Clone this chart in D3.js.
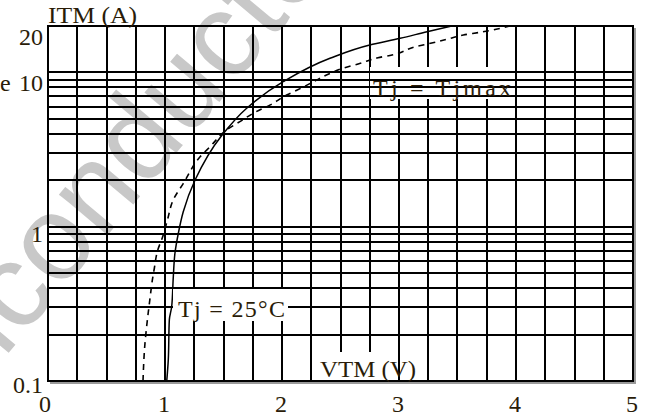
<!DOCTYPE html>
<html>
<head>
<meta charset="utf-8">
<script src="https://cdn.jsdelivr.net/npm/d3@7"></script>
<style>
  html, body { margin: 0; padding: 0; background: #fff; }
  svg { display: block; }
  text { font-family: "Liberation Serif", "Times New Roman", serif; }
</style>
</head>
<body>
<svg id="chart" width="656" height="419"></svg>
<script>
// ---- data ----
const xTickValues = [0, 1, 2, 3, 4, 5];
const yTickValues = [0.1, 1, 10, 20];
const yTickLabels = ["0.1", "1", "10", "20"];

// Tj = 25 °C (solid)
const vtm25 = [1.015, 1.028, 1.037, 1.057, 1.071, 1.085, 1.114, 1.156, 1.256, 1.485, 1.698, 2.01, 2.41, 2.75, 3.01, 3.24, 3.45];
const itm25 = [0.1, 0.137, 0.249, 0.303, 0.474, 0.673, 0.907, 1.25, 2.0, 3.9, 5.86, 8.71, 12.35, 15.06, 16.64, 18.36, 20];

// Tj = Tjmax (dashed)
const vtmMax = [0.812, 0.829, 0.843, 0.872, 0.892, 0.909, 0.934, 0.98, 1.02, 1.07, 1.157, 1.30, 1.385, 1.527, 1.64, 1.78, 1.90, 2.04, 2.13, 2.27, 2.38, 2.52, 2.67, 2.82, 2.94, 3.14, 3.27, 3.42, 3.55, 3.69, 3.84, 3.95];
const itmMax = [0.1, 0.176, 0.225, 0.344, 0.452, 0.538, 0.689, 0.862, 1.1, 1.49, 1.91, 2.84, 3.30, 4.24, 4.8, 5.57, 6.16, 7.14, 7.69, 8.71, 9.62, 10.64, 11.46, 12.46, 12.97, 14.68, 15.45, 16.47, 17.48, 18.2, 19.12, 20];

const xLabel = "VTM (V)";
const yLabel = "ITM (A)";
const label25 = "Tj = 25°C";
const labelMax = "Tj = Tjmax";

// ---- layout ----
const svg = d3.select("#chart");
const x = d3.scaleLinear().domain([0, 5]).range([48, 633]);
const y = d3.scaleLog().domain([0.1, 20]).range([381, 26]);

const vGrid = d3.range(0.25, 5, 0.25);
const hGrid = [].concat(d3.range(2, 10).map(d => d / 10), d3.range(1, 11), [20]).filter(v => v > 0.1 && v < 20);

svg.append("rect").attr("width", 656).attr("height", 419).attr("fill", "#fff");

// watermark
svg.append("text")
  .attr("transform", "translate(-155,548) rotate(-50)")
  .style("font-family", "'Liberation Sans', Arial, sans-serif")
  .style("font-size", "120px")
  .attr("fill", "#c8c8c8")
  .text("Semiconductor");

const g = svg.append("g");

// vertical grid
g.append("g").selectAll("line").data(vGrid).join("line")
  .attr("x1", d => Math.round(x(d))).attr("x2", d => Math.round(x(d)))
  .attr("y1", y(20)).attr("y2", y(0.1))
  .attr("stroke", "#000").attr("stroke-width", 2).attr("shape-rendering", "crispEdges");

// curves
const line = d3.line().x(d => x(d[0])).y(d => y(d[1])).curve(d3.curveMonotoneY);
g.append("path")
  .datum(d3.zip(vtm25, itm25))
  .attr("d", line).attr("fill", "none").attr("stroke", "#000").attr("stroke-width", 1.5);
g.append("path")
  .datum(d3.zip(vtmMax, itmMax))
  .attr("d", line).attr("fill", "none").attr("stroke", "#000").attr("stroke-width", 1.6)
  .attr("stroke-dasharray", "6,5");

// box behind Tjmax label (covers vertical lines and curves)
g.append("rect").attr("x", 370).attr("y", 67).attr("width", 143).attr("height", 32).attr("fill", "#fff");

// horizontal grid
g.append("g").selectAll("line").data(hGrid).join("line")
  .attr("x1", x(0)).attr("x2", x(5))
  .attr("y1", d => Math.round(y(d))).attr("y2", d => Math.round(y(d)))
  .attr("stroke", "#000").attr("stroke-width", 2).attr("shape-rendering", "crispEdges");

// label boxes
g.append("rect").attr("x", 173).attr("y", 289).attr("width", 115).attr("height", 32).attr("fill", "#fff");
g.append("rect").attr("x", 318).attr("y", 352).attr("width", 78).attr("height", 28).attr("fill", "#fff");

// frame shadow + frame
g.append("path")
  .attr("d", `M${x(5) + 2},${y(20) + 2}V${y(0.1) + 2}H${x(0) + 2}`)
  .attr("fill", "none").attr("stroke", "#9a9a9a").attr("stroke-width", 2);
g.append("rect")
  .attr("x", x(0)).attr("y", y(20)).attr("width", x(5) - x(0)).attr("height", y(0.1) - y(20))
  .attr("fill", "none").attr("stroke", "#000").attr("stroke-width", 2).attr("shape-rendering", "crispEdges");

// axes tick labels
const textColor = "#2a1c08";
g.append("g").selectAll("text").data(xTickValues).join("text")
  .attr("x", d => x(d) - (d === 0 ? 3 : 1)).attr("y", 412)
  .attr("text-anchor", "middle").attr("font-size", 24).attr("fill", textColor)
  .text(d => d3.format("d")(d));

const yLabelBase = { 0.1: 393, 1: 242, 10: 91, 20: 45 };
g.append("g").selectAll("text").data(yTickValues).join("text")
  .attr("x", 43).attr("y", d => yLabelBase[d])
  .attr("text-anchor", "end").attr("font-size", 24).attr("fill", textColor)
  .text((d, i) => yTickLabels[i]);

// small text fragment at left
svg.append("text").attr("x", 0).attr("y", 91)
  .attr("font-size", 24).attr("fill", textColor).text("e");

// axis titles
svg.append("text").attr("x", 48).attr("y", 23).attr("font-size", 24).attr("fill", textColor)
  .attr("textLength", 89).attr("lengthAdjust", "spacingAndGlyphs").text(yLabel);
svg.append("text").attr("x", 320).attr("y", 377).attr("font-size", 24).attr("fill", textColor)
  .attr("textLength", 96).attr("lengthAdjust", "spacingAndGlyphs").text(xLabel);

// curve labels
svg.append("text").attr("x", 178).attr("y", 317).attr("font-size", 24).attr("fill", textColor)
  .attr("textLength", 107).attr("lengthAdjust", "spacing").text(label25);
svg.append("text").attr("x", 373).attr("y", 96).attr("font-size", 24).attr("fill", textColor)
  .attr("textLength", 138).attr("lengthAdjust", "spacing").text(labelMax);
</script>
</body>
</html>
